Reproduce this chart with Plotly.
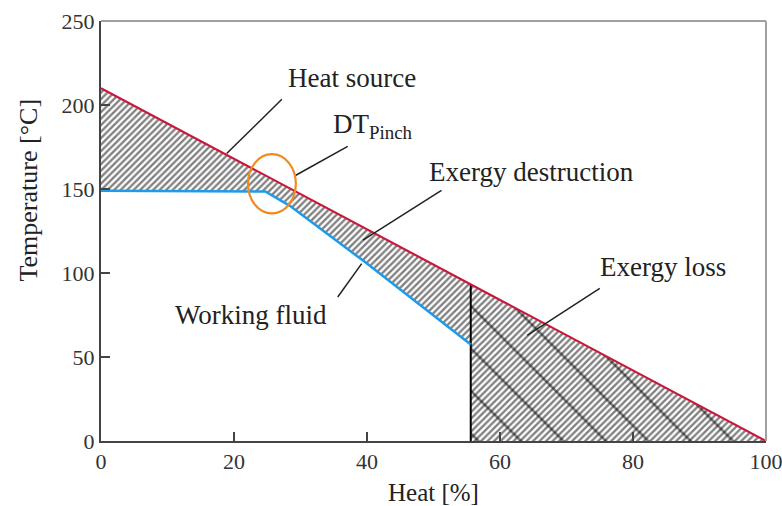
import numpy as np
import plotly.graph_objects as go

# ---- data ----
heat_source_x = [0, 100]
heat_source_y = [210, 0]

fluid_x = [0, 24.7, 28.4, 39.7, 55.6]
fluid_y = [149, 148.5, 140, 106.5, 57.5]

x_ticks = [0, 20, 40, 60, 80, 100]
y_ticks = [0, 50, 100, 150, 200, 250]

pinch_x = fluid_x[-1]  # end of working fluid heating
loss_top = float(np.interp(pinch_x, heat_source_x, heat_source_y))

FONT = "Liberation Serif"
RED = "#c8193c"
BLUE = "#1e9be8"
ORANGE = "#f08a24"

fig = go.Figure()

# combined hatched region (exergy destruction + exergy loss)
poly_x = list(heat_source_x) + [pinch_x] + fluid_x[::-1]
poly_y = list(heat_source_y) + [0] + fluid_y[::-1]
fig.add_trace(go.Scatter(
    x=poly_x, y=poly_y, mode="lines", fill="toself",
    line=dict(width=0), fillcolor="rgba(0,0,0,0)",
    fillpattern=dict(shape="/", size=4.6, solidity=0.5, fgcolor="black"),
    hoverinfo="skip", showlegend=False))

# exergy loss triangle (coarse back-hatch)
fig.add_trace(go.Scatter(
    x=[pinch_x, pinch_x, heat_source_x[1], pinch_x],
    y=[0, loss_top, heat_source_y[1], 0],
    mode="lines", fill="toself", line=dict(width=0), fillcolor="rgba(0,0,0,0)",
    fillpattern=dict(shape="\\", size=30, solidity=0.085, fgcolor="black"),
    hoverinfo="skip", showlegend=False))

# vertical boundary line
fig.add_trace(go.Scatter(x=[pinch_x, pinch_x], y=[0, loss_top], mode="lines",
                         line=dict(color="black", width=2), hoverinfo="skip", showlegend=False))

# working fluid
fig.add_trace(go.Scatter(x=fluid_x, y=fluid_y, mode="lines",
                         line=dict(color=BLUE, width=2.5), showlegend=False))
# heat source
fig.add_trace(go.Scatter(x=heat_source_x, y=heat_source_y, mode="lines",
                         line=dict(color=RED, width=2.2), showlegend=False))

shapes = []
# pinch ellipse
shapes.append(dict(type="circle", xref="x", yref="y", x0=22.1, x1=29.3, y0=135.5, y1=170.7,
                   line=dict(color=ORANGE, width=2.2)))
# leader lines
leaders = [
    ((27.2, 203.4), (18.9, 171.1)),
    ((37.1, 175.4), (29.3, 158.2)),
    ((51.2, 149.2), (39.4, 119.5)),
    ((35.6, 85.7), (39.2, 105.6)),
    ((75.0, 90.9), (64.1, 62.9)),
]
for (a, b) in leaders:
    shapes.append(dict(type="line", xref="x", yref="y", x0=a[0], y0=a[1], x1=b[0], y1=b[1],
                       line=dict(color="#222", width=1.5)))
# top & right frame (lighter)
shapes.append(dict(type="line", xref="paper", yref="paper", x0=0, x1=1, y0=1, y1=1,
                   line=dict(color="#a0a0a0", width=2)))
shapes.append(dict(type="line", xref="paper", yref="paper", x0=1, x1=1, y0=0, y1=1,
                   line=dict(color="#a0a0a0", width=2)))

ann_font = dict(family=FONT, size=27, color="#222")
annotations = [
    dict(x=37.8, y=215.9, text="Heat source"),
    dict(x=40.9, y=187.3, text="DT<sub>Pinch</sub>"),
    dict(x=64.7, y=160.3, text="Exergy destruction"),
    dict(x=22.6, y=75.0, text="Working fluid"),
    dict(x=84.5, y=103.4, text="Exergy loss"),
]
for a in annotations:
    a.update(xref="x", yref="y", showarrow=False, font=ann_font, xanchor="center", yanchor="middle")
# axis titles
annotations.append(dict(xref="paper", yref="paper", x=0.5, y=(441 - 492) / 420, text="Heat [%]",
                        showarrow=False, font=dict(family=FONT, size=25, color="#222"),
                        xanchor="center", yanchor="middle"))
annotations.append(dict(xref="paper", yref="paper", x=(27.5 - 101) / 665, y=(441 - 190) / 420,
                        text="Temperature [°C]", textangle=-90,
                        showarrow=False, font=dict(family=FONT, size=26, color="#222"),
                        xanchor="center", yanchor="middle"))

axis_common = dict(showgrid=False, zeroline=False, showline=True, linecolor="#444", linewidth=2,
                   ticks="inside", ticklen=9, tickwidth=1.5, tickcolor="#444",
                   automargin=False, ticklabeloverflow="allow",
                   tickfont=dict(family=FONT, size=22, color="#333"))

fig.update_layout(
    width=782, height=506, autosize=False,
    margin=dict(l=101, r=16, t=21, b=65),
    paper_bgcolor="white", plot_bgcolor="white",
    xaxis=dict(range=[0, 100], tickvals=x_ticks, **axis_common),
    yaxis=dict(range=[0, 250], tickvals=y_ticks, **axis_common),
    shapes=shapes, annotations=annotations,
)

fig.write_html("out.html", config={"responsive": False},
               post_script="document.documentElement.style.overflow='hidden';"
                           "document.body.style.margin='0';document.body.style.overflow='hidden';")
